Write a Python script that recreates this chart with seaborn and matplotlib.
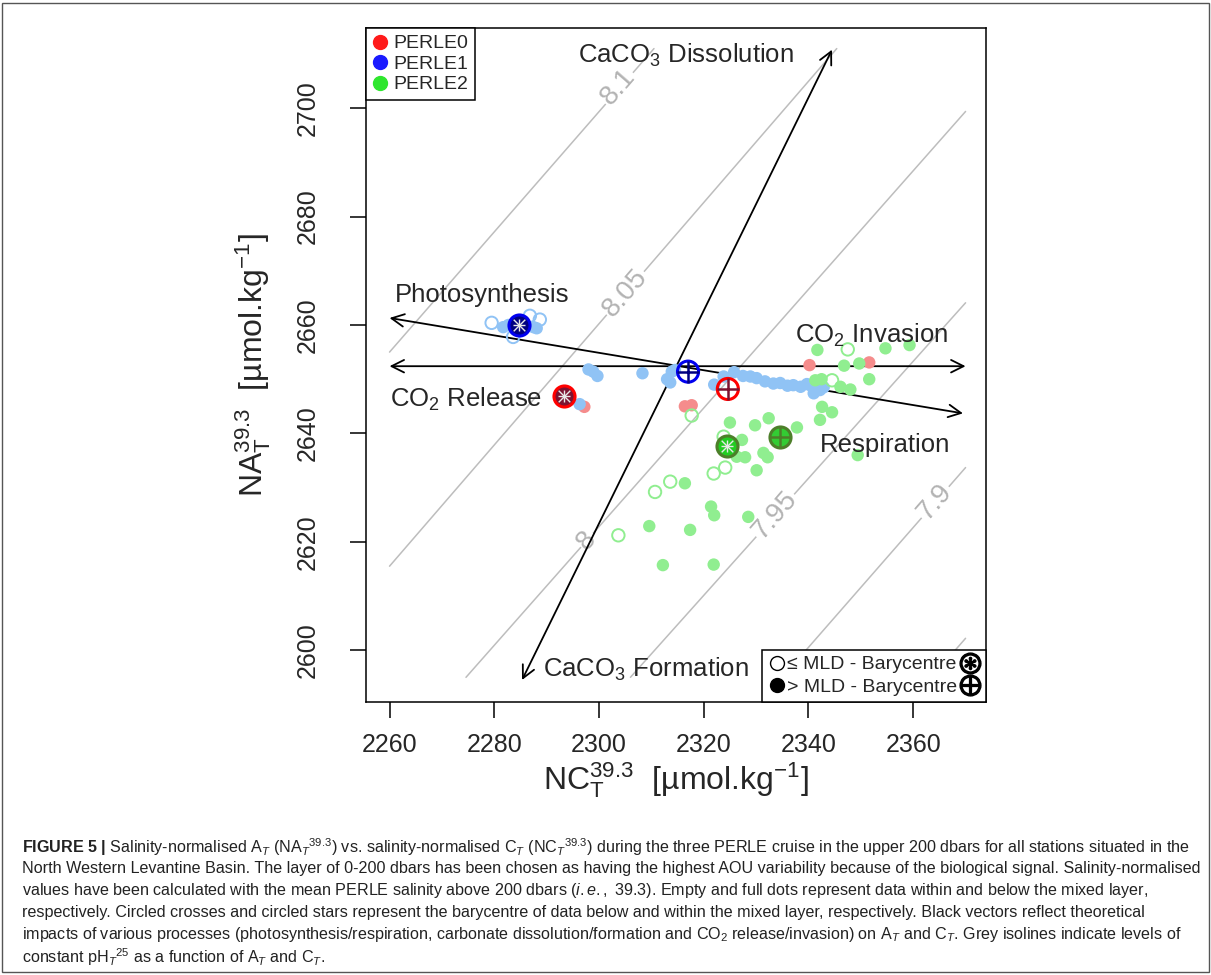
import matplotlib
matplotlib.use("Agg")
import matplotlib.pyplot as plt
import seaborn as sns
from matplotlib.lines import Line2D
from matplotlib.patches import Rectangle
from matplotlib import font_manager

# ---------------- datos ----------------
# PERLE0 (rojo)
p0_full_c = [2297.2, 2316.4, 2317.7, 2340.2, 2351.6]
p0_full_a = [2644.9, 2645.0, 2645.2, 2652.6, 2653.1]

# PERLE1 (azul)
p1_open_c = [2279.5, 2283.6, 2286.8, 2288.7]
p1_open_a = [2660.4, 2657.8, 2661.7, 2661.0]
p1_full_c = [2281.7, 2282.7, 2284.0, 2287.5, 2288.1, 2296.3, 2298.0, 2298.9, 2299.7,
             2308.3, 2313.0, 2313.9, 2314.5, 2313.6, 2322.0, 2323.8, 2325.8, 2327.5,
             2328.9, 2330.1, 2331.7, 2333.3, 2334.6, 2336.0, 2337.1, 2338.5, 2339.7,
             2340.5, 2341.3, 2342.2, 2341.0, 2342.9]
p1_full_a = [2659.6, 2660.0, 2659.1, 2659.6, 2659.4, 2645.4, 2651.8, 2651.4, 2650.6,
             2651.1, 2650.0, 2651.4, 2651.7, 2649.4, 2649.0, 2650.5, 2651.3, 2650.6,
             2650.5, 2650.2, 2649.6, 2649.2, 2649.3, 2648.8, 2648.9, 2648.6, 2649.1,
             2648.8, 2648.3, 2648.0, 2647.4, 2648.5]

# PERLE2 (verde)
p2_open_c = [2317.7, 2323.8, 2321.9, 2324.1, 2313.6, 2310.7, 2303.7, 2347.5, 2344.5]
p2_open_a = [2643.3, 2639.4, 2632.6, 2633.7, 2631.1, 2629.2, 2621.2, 2655.5, 2649.8]
p2_full_c = [2325.0, 2329.8, 2332.4, 2337.8, 2342.6, 2344.5, 2342.2, 2327.3, 2326.3,
             2327.9, 2331.4, 2332.2, 2330.1, 2349.4, 2316.4, 2321.4, 2322.0, 2328.5,
             2309.6, 2317.4, 2312.2, 2321.9, 2341.7, 2354.7, 2359.3, 2346.8, 2349.7,
             2351.6, 2341.3, 2346.1, 2348.0, 2342.5]
p2_full_a = [2642.0, 2641.5, 2642.8, 2641.1, 2644.9, 2643.9, 2642.5, 2638.8, 2635.7,
             2635.6, 2636.4, 2635.6, 2633.2, 2636.0, 2630.8, 2626.5, 2624.9, 2624.6,
             2622.9, 2622.2, 2615.7, 2615.8, 2655.4, 2655.7, 2656.3, 2652.5, 2652.9,
             2650.0, 2649.8, 2648.6, 2648.1, 2650.0]

# baricentros (estrella = dentro de la MLD, cruz = debajo)
bary_star_c = [2293.4, 2284.8, 2324.4]
bary_star_a = [2646.9, 2660.0, 2637.7]
bary_plus_c = [2324.6, 2317.0, 2334.5]
bary_plus_a = [2648.2, 2651.4, 2639.4]

# isolineas de pH
iso_ph = ["8.1", "8.05", "8", "7.95", "7.9", ""]
iso_c0 = [2260.0, 2260.0, 2274.6, 2306.0, 2335.0, 2363.5]
iso_a0 = [2655.0, 2615.5, 2595.0, 2595.0, 2595.0, 2595.0]
iso_c1 = [2310.5, 2345.4, 2370.0, 2370.0, 2370.0, 2370.0]
iso_a1 = [2711.0, 2711.0, 2699.4, 2664.1, 2633.7, 2602.2]
iso_lab_c = [2303.6, 2305.0, 2297.7, 2333.6, 2364.2]
iso_lab_a = [2703.9, 2665.9, 2620.3, 2624.9, 2627.3]

# vectores teoricos
vec_c0 = [2260.0, 2260.0, 2285.3]
vec_a0 = [2661.3, 2652.4, 2594.5]
vec_c1 = [2369.5, 2370.0, 2344.5]
vec_a1 = [2643.7, 2652.4, 2710.8]

cruceros = ["PERLE0", "PERLE1", "PERLE2"]
col_legend = ["#ff1a1a", "#1a1aff", "#2ee62e"]
col_light = ["#f58c8c", "#90c3f5", "#90ee90"]
col_ring = ["#ff0000", "#0000ee", "#4d7f2a"]
col_fill = ["#7d1230", "#000080", "#22cc22"]
col_cross = ["#7d1230", "#000080", "#4d7f2a"]
col_plus_fill = ["none", "none", "#33cc33"]

# ---------------- estilo ----------------
sns.set_style("ticks")
names = {f.name for f in font_manager.fontManager.ttflist}
plt.rcParams["font.family"] = ["Liberation Sans", "DejaVu Sans"]
plt.rcParams["mathtext.fontset"] = "custom"
plt.rcParams["mathtext.rm"] = "Liberation Sans"
plt.rcParams["mathtext.it"] = "Liberation Sans:italic"
plt.rcParams["mathtext.bf"] = "Liberation Sans:bold"
plt.rcParams["mathtext.default"] = "regular"

fig = plt.figure(figsize=(12.11, 9.75), dpi=100)
ax = fig.add_axes([0.3022, 0.2803, 0.512, 0.691])

# isolineas grises
for i in range(len(iso_ph)):
    sns.lineplot(x=[iso_c0[i], iso_c1[i]], y=[iso_a0[i], iso_a1[i]], ax=ax,
                 color="#bdbdbd", linewidth=1.1, estimator=None, sort=False, zorder=1)
for i in range(len(iso_lab_c)):
    ax.text(iso_lab_c[i], iso_lab_a[i], iso_ph[i], color="#b3b3b3", fontsize=20,
            rotation=49, ha="center", va="center", rotation_mode="anchor", zorder=1.5,
            bbox=dict(facecolor="white", edgecolor="none", pad=1))

# vectores
for i in range(len(vec_c0)):
    ax.annotate("", xy=(vec_c1[i], vec_a1[i]), xytext=(vec_c0[i], vec_a0[i]),
                arrowprops=dict(arrowstyle="<->,head_length=9,head_width=4.5",
                                mutation_scale=1, color="black", lw=1.3,
                                shrinkA=0, shrinkB=0), zorder=2)

# puntos
full_c = [p0_full_c, p1_full_c, p2_full_c]
full_a = [p0_full_a, p1_full_a, p2_full_a]
open_c = [[], p1_open_c, p2_open_c]
open_a = [[], p1_open_a, p2_open_a]
for i in range(3):
    sns.scatterplot(x=full_c[i], y=full_a[i], ax=ax, color=col_light[i], s=80,
                    edgecolor="none", linewidth=0, zorder=3)
    if len(open_c[i]):
        sns.scatterplot(x=open_c[i], y=open_a[i], ax=ax, marker="o", s=80,
                        facecolors="none", edgecolor=col_light[i], linewidth=1.4, zorder=3)

# baricentros
for i in range(3):
    sns.scatterplot(x=[bary_star_c[i]], y=[bary_star_a[i]], ax=ax, color=col_fill[i],
                    s=230, edgecolor=col_ring[i], linewidth=2.2, zorder=4)
    for m in ["+", "x"]:
        sns.scatterplot(x=[bary_star_c[i]], y=[bary_star_a[i]], ax=ax, marker=m,
                        color="#e8e8e8", s=70, linewidth=1.0, zorder=4.5)
    sns.scatterplot(x=[bary_plus_c[i]], y=[bary_plus_a[i]], ax=ax, marker="o",
                    s=230, facecolors=col_plus_fill[i], edgecolor=col_ring[i],
                    linewidth=2.2, zorder=4)
    sns.scatterplot(x=[bary_plus_c[i]], y=[bary_plus_a[i]], ax=ax, marker="+",
                    color=col_cross[i], s=230, linewidth=1.8, zorder=4.5)

# textos de los procesos
fs = 18.5
ax.text(2316.7, 2709.8, "CaCO$_3$ Dissolution", fontsize=fs, ha="center", va="center", zorder=5)
ax.text(2261.0, 2665.5, "Photosynthesis", fontsize=fs, ha="left", va="center", zorder=5)
ax.text(2260.1, 2646.3, "CO$_2$ Release", fontsize=fs, ha="left", va="center", zorder=5)
ax.text(2366.7, 2658.0, "CO$_2$ Invasion", fontsize=fs, ha="right", va="center", zorder=5)
ax.text(2367.1, 2637.8, "Respiration", fontsize=fs, ha="right", va="center", zorder=5)
ax.text(2289.3, 2596.5, "CaCO$_3$ Formation", fontsize=fs, ha="left", va="center", zorder=5)

# ejes
ax.set_xlim(2255.5, 2373.9)
ax.set_ylim(2590.5, 2714.8)
ax.set_xticks(range(2260, 2361, 20))
ax.set_yticks(range(2600, 2701, 20))
ax.tick_params(axis="both", labelsize=18, length=11.5, width=1.1, color="black")
ax.tick_params(axis="x", pad=11)
ax.tick_params(axis="y", pad=22, labelrotation=90)
for lab in ax.get_yticklabels():
    lab.set_va("center")
for sp in ax.spines.values():
    sp.set_visible(True)
    sp.set_linewidth(1.1)
    sp.set_color("black")
ax.set_xlabel("NC$_T^{39.3}$  [µmol.kg$^{-1}$]", fontsize=23, labelpad=2)
ax.set_ylabel("NA$_T^{39.3}$  [µmol.kg$^{-1}$]", fontsize=23, labelpad=16)

# leyendas
h1 = [Line2D([], [], marker="o", ls="", color=c, markersize=10) for c in col_legend]
leg1 = ax.legend(h1, cruceros, loc="upper left", fontsize=14, handlelength=0.7,
                 handletextpad=0.35, borderpad=0.35, labelspacing=0.15, borderaxespad=0,
                 frameon=True, fancybox=False, framealpha=1, edgecolor="black")
leg1.get_frame().set_linewidth(1.1)
ax.add_artist(leg1)

open_h = Line2D([], [], marker="o", ls="", mfc="none", mec="black", markersize=10)
full_h = Line2D([], [], marker="o", ls="", mfc="black", mec="black", markersize=10)
star_h = Line2D([], [], marker=r"$\circledast$", ls="", color="black", markersize=15)
plus_h = Line2D([], [], marker=r"$\oplus$", ls="", color="black", markersize=15)
leg2 = ax.legend([open_h, full_h, star_h, plus_h],
                 ["≤ MLD - Barycentre", "> MLD - Barycentre", "", ""],
                 ncol=2, loc="lower right",
                 prop={"family": ["Liberation Sans", "DejaVu Sans"], "size": 14},
                 handlelength=0.9, handletextpad=0.05, borderpad=0.3, labelspacing=0.25,
                 columnspacing=0.25, borderaxespad=0, frameon=True, fancybox=False,
                 framealpha=1, edgecolor="black")
leg2.get_frame().set_linewidth(1.1)
leg2.set_zorder(6)
leg1.set_zorder(6)

# pie de figura
if "Liberation Sans Narrow" in names:
    cap_family, cap_size = "Liberation Sans Narrow", 14.0
else:
    cap_family, cap_size = "Liberation Sans", 11.6
caption = [
    r"$\mathbf{FIGURE\ 5\ |}$ Salinity-normalised A$_{\mathit{T}}$ (NA$_{\mathit{T}}$$^{39.3}$) vs. salinity-normalised C$_{\mathit{T}}$ (NC$_{\mathit{T}}$$^{39.3}$) during the three PERLE cruise in the upper 200 dbars for all stations situated in the",
    "North Western Levantine Basin. The layer of 0-200 dbars has been chosen as having the highest AOU variability because of the biological signal. Salinity-normalised",
    r"values have been calculated with the mean PERLE salinity above 200 dbars ($\mathit{i.e.,}$ 39.3). Empty and full dots represent data within and below the mixed layer,",
    "respectively. Circled crosses and circled stars represent the barycentre of data below and within the mixed layer, respectively. Black vectors reflect theoretical",
    r"impacts of various processes (photosynthesis/respiration, carbonate dissolution/formation and CO$_2$ release/invasion) on A$_{\mathit{T}}$ and C$_{\mathit{T}}$. Grey isolines indicate levels of",
    r"constant pH$_{\mathit{T}}$$^{25}$ as a function of A$_{\mathit{T}}$ and C$_{\mathit{T}}$.",
]
for k, line in enumerate(caption):
    fig.text(22 / 1211, 1 - (847 + 22 * k) / 975, line, family=cap_family, fontsize=cap_size,
             color="#222222", ha="left", va="center")

fig.patches.append(Rectangle((0.002, 0.003), 0.996, 0.994, transform=fig.transFigure,
                             fill=False, edgecolor="#555555", linewidth=1))

fig.savefig("out.png", dpi=100)
